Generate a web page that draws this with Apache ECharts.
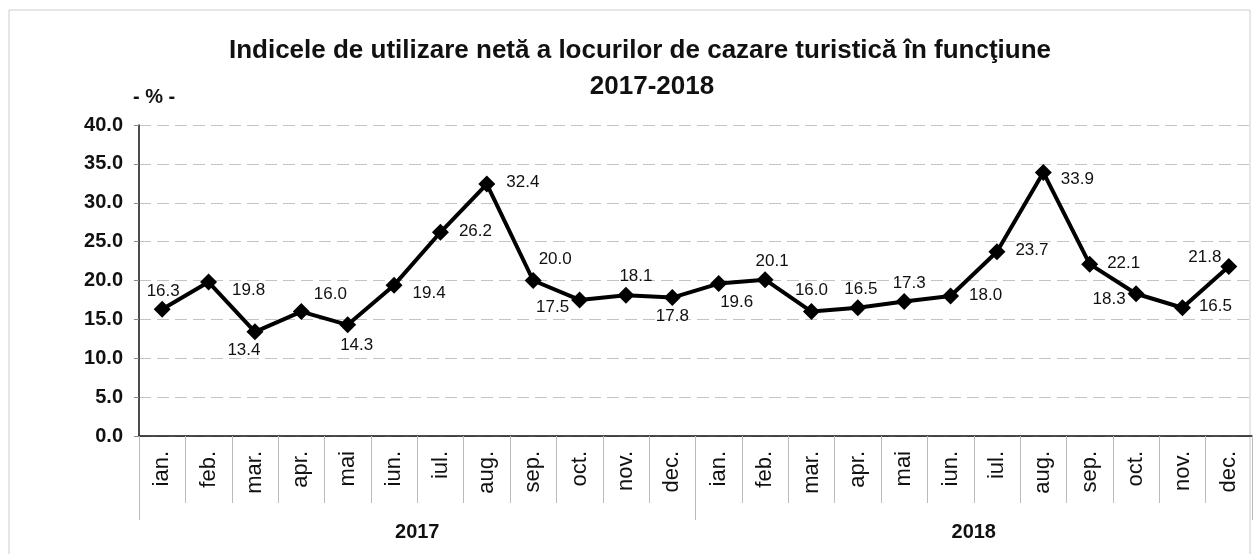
<!DOCTYPE html>
<html><head><meta charset="utf-8">
<script src="https://cdn.jsdelivr.net/npm/echarts@6/dist/echarts.min.js"></script>
<style>html,body{margin:0;padding:0;background:#fff}#c{width:1256px;height:554px}</style>
</head><body><div id="c"></div>
<script>
const months = ['ian.','feb.','mar.','apr.','mai','iun.','iul.','aug.','sep.','oct.','nov.','dec.'];
const years = ['2017','2018'];
const values2017 = [16.3,19.8,13.4,16.0,14.3,19.4,26.2,32.4,20.0,17.5,18.1,17.8];
const values2018 = [19.6,20.1,16.0,16.5,17.3,18.0,23.7,33.9,22.1,18.3,16.5,21.8];
const yTicks = [0,5,10,15,20,25,30,35,40];
const titleLine1 = 'Indicele de utilizare netă a locurilor de cazare turistică în funcţiune';
const titleLine2 = '2017-2018';
const unitText = '- % -';

const categories = years.flatMap(y => months.map(m => m + '|' + y));
const values = values2017.concat(values2018);

// label offsets from the marker centre (style only)
const labelOffset = [
 [1,-18],[40,8],[-11,18],[29,-17],[9,20],[35,8],[35,-1],[36,-2],[22,-21],[-27,7],[10,-19],[0,19],
 [18,19],[7,-18],[0,-21],[3,-18],[5,-18],[35,-1],[35,-1],[34,7],[34,-1],[-27,6],[33,-1],[-24,-9]
];
const SYM = 17;
const data = values.map((v,i)=>({value:v,label:{position:[SYM/2+labelOffset[i][0],SYM/2+labelOffset[i][1]],align:'center',verticalAlign:'middle'}}));
const FF = 'Liberation Sans, Arial, sans-serif';

const chart = echarts.init(document.getElementById('c'), null, {renderer:'canvas'});
chart.setOption({
  backgroundColor:'#fff',
  animation:false,
  title:[
    {text:titleLine1,left:635,textAlign:'center',top:33,
     textStyle:{fontFamily:FF,fontSize:26,fontWeight:'bold',color:'#111'}},
    {text:titleLine2,left:647,textAlign:'center',top:69,
     textStyle:{fontFamily:FF,fontSize:26,fontWeight:'bold',color:'#111'}}
  ],
  graphic:[
    {type:'text',left:133,top:87,style:{text:unitText,font:'bold 20px Liberation Sans, Arial',fill:'#111'}},
    {type:'rect',shape:{x:9,y:10,width:1241,height:560},style:{fill:'none',stroke:'#ccc',lineWidth:1},silent:true}
  ],
  grid:{left:139,right:4,top:125,bottom:118,containLabel:false},
  xAxis:[
    {type:'category',data:categories,boundaryGap:true,position:'bottom',
     axisLine:{lineStyle:{color:'#111',width:1.5}},
     axisTick:{show:true,length:67,lineStyle:{color:'#bbb'}},
     axisLabel:{rotate:90,margin:15,fontFamily:FF,fontSize:22,color:'#111',
       formatter:v=>v.split('|')[0]}},
    {type:'category',data:years,boundaryGap:true,position:'bottom',
     axisLine:{show:false},
     axisTick:{show:true,length:84,lineStyle:{color:'#bbb'}},
     axisLabel:{margin:86,fontFamily:FF,fontSize:20,fontWeight:'bold',color:'#111'}}
  ],
  yAxis:{type:'value',min:yTicks[0],max:yTicks[yTicks.length-1],interval:yTicks[1]-yTicks[0],
    axisLine:{show:true,lineStyle:{color:'#111',width:1.5}},
    axisTick:{show:true,length:5,lineStyle:{color:'#888'}},
    splitLine:{lineStyle:{color:'#c4c4c4',type:[12,6]}},
    axisLabel:{margin:16,formatter:v=>v.toFixed(1),fontFamily:FF,fontSize:20,fontWeight:'bold',color:'#111'}},
  series:[{type:'line',data:data,xAxisIndex:0,
    lineStyle:{color:'#000',width:4},itemStyle:{color:'#000'},
    symbol:'diamond',symbolSize:SYM,
    label:{show:true,formatter:p=>p.value.toFixed(1),fontFamily:FF,fontSize:17,color:'#111'}}]
});
</script></body></html>
